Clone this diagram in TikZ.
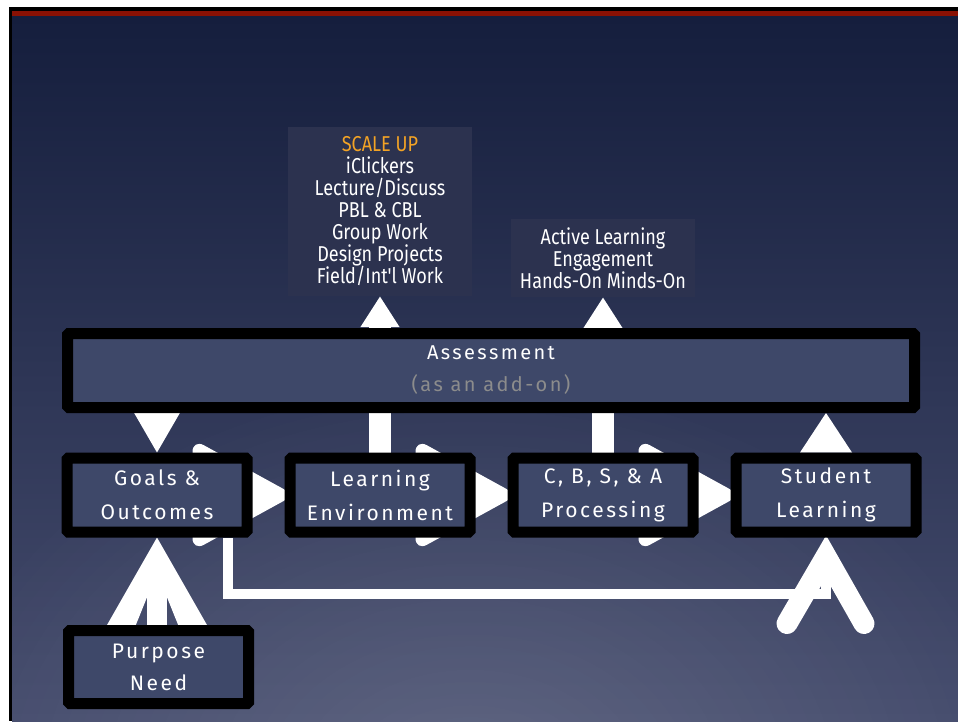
\documentclass[tikz,border=0pt]{standalone}
\usepackage{fontspec}
\setmainfont{Fira Sans}
\newfontfamily\boxfamily[LetterSpace=12]{Fira Sans}
\newfontfamily\narrowfamily[FakeStretch=0.84]{Fira Sans}
\usetikzlibrary{calc,arrows.meta,fadings}
\definecolor{navytop}{HTML}{151E3D}
\definecolor{navymid}{HTML}{2B3456}
\definecolor{navybot}{HTML}{454C6D}
\definecolor{boxfill}{HTML}{3E4869}
\definecolor{listfill}{HTML}{2C324F}
\definecolor{scaleorange}{HTML}{F3A325}
\definecolor{addongray}{HTML}{8C8C8C}
\definecolor{slidered}{HTML}{8A1104}
\pgfdeclarelayer{back}
\pgfdeclarelayer{links}
\pgfsetlayers{back,links,main}
\tikzfading[name=glow, inner color=transparent!86, outer color=transparent!100]
\begin{document}
\begin{tikzpicture}[x=1pt,y=-1pt,
  stagebox/.style={draw=black, line width=11pt, fill=boxfill, rounded corners=1.5pt,
    minimum width=180pt, minimum height=74pt, inner sep=0pt, text=white, align=center,
    font=\boxfamily\fontsize{21}{34}\selectfont},
  listbox/.style={fill=listfill, inner sep=0pt, text=white, align=center,
    font=\narrowfamily\fontsize{21.5}{22}\selectfont},
  flow/.style={white, line width=22pt, -{Triangle[width=37pt,length=31pt]}},
]
\useasboundingbox (0,0) rectangle (958,721);

% slide background
\begin{pgfonlayer}{back}
\fill[white] (0,0) rectangle (958,721);
\fill[black] (9,7) rectangle (958,721);
\fill[slidered] (12,11) rectangle (958,16);
\shade[top color=navytop, middle color=navymid, bottom color=navybot] (12,16) rectangle (958,721);
\begin{scope}
\clip (12,16) rectangle (958,721);
\fill[white, path fading=glow] (470,790) ellipse (560 and 420);
\end{scope}
\end{pgfonlayer}

% nodes
\node[stagebox] (goals) at (157,495) {Goals \&\\Outcomes};
\node[stagebox] (envir) at (380,495) {Learning\\Environment};
\node[stagebox] (proc) at (603,495) {C, B, S, \& A\\Processing};
\node[stagebox] (student) at (826,495) {Student\\Learning};
\node[stagebox, minimum width=847pt, font=\boxfamily\fontsize{20}{32}\selectfont] (assess) at (491,370.5)
  {Assessment\\\textcolor{addongray}{(as an add-on)}};
\node[stagebox, minimum height=73pt, font=\boxfamily\fontsize{21}{32}\selectfont] (purpose) at (158.5,667) {Purpose\\Need};
\node[listbox, minimum width=184pt, minimum height=169pt] (methods) at (380,211.5)
  {\textcolor{scaleorange}{SCALE UP}\\iClickers\\Lecture/Discuss\\PBL \& CBL\\Group Work\\Design Projects\\Field/Int'l Work};
\node[listbox, minimum width=184pt, minimum height=78pt] (active) at (603,258)
  {Active Learning\\Engagement\\Hands-On Minds-On};

% connectors
\begin{pgfonlayer}{links}
% assessment -> goals
\fill[white] ($(goals.north |- assess.south)+(-24,-2)$) -- ($(goals.north |- assess.south)+(24,-2)$) -- (goals.north) -- cycle;
% student -> assessment
\fill[white] ($(student.north)+(-26,0)$) -- ($(student.north)+(26,0)$) -- (student.north |- assess.south) -- cycle;
% stage to stage
\foreach \a/\b in {goals/envir, envir/proc, proc/student}{
  \fill[white, rounded corners=13pt] ($(\a.east)+(-60,-56)$) -- ($(\b.west)+(10,0)$) -- ($(\a.east)+(-60,56)$) -- cycle;
}
% upward flows through the assessment bar
\draw[flow] (envir.north) -- (methods.south);
\draw[flow] (proc.north) -- (active.south);
% purpose -> goals
\coordinate (ptip) at (goals.south);
\coordinate (pbase) at (ptip |- purpose.north);
\fill[white, even odd rule] (ptip) -- ($(pbase)+(-54,7)$) -- ($(pbase)+(54,7)$) -- cycle
  ($(ptip)+(0,35)$) -- ($(pbase)+(-24,7)$) -- ($(pbase)+(24,7)$) -- cycle;
\fill[white] ($(pbase)+(-10,7)$) rectangle ($(ptip)+(10,30)$);
% goals -> student
\draw[white, line width=10pt] ($(goals.south east)+(-25,0)$) |- ($(student.south)+(0,56)$) -- ($(student.south)+(0,30)$);
\draw[white, line width=21pt, line cap=round, line join=miter]
  ($(student.south)+(-39,86)$) -- ($(student.south)+(0,19)$) -- ($(student.south)+(38,86)$);
\end{pgfonlayer}
\end{tikzpicture}
\end{document}
